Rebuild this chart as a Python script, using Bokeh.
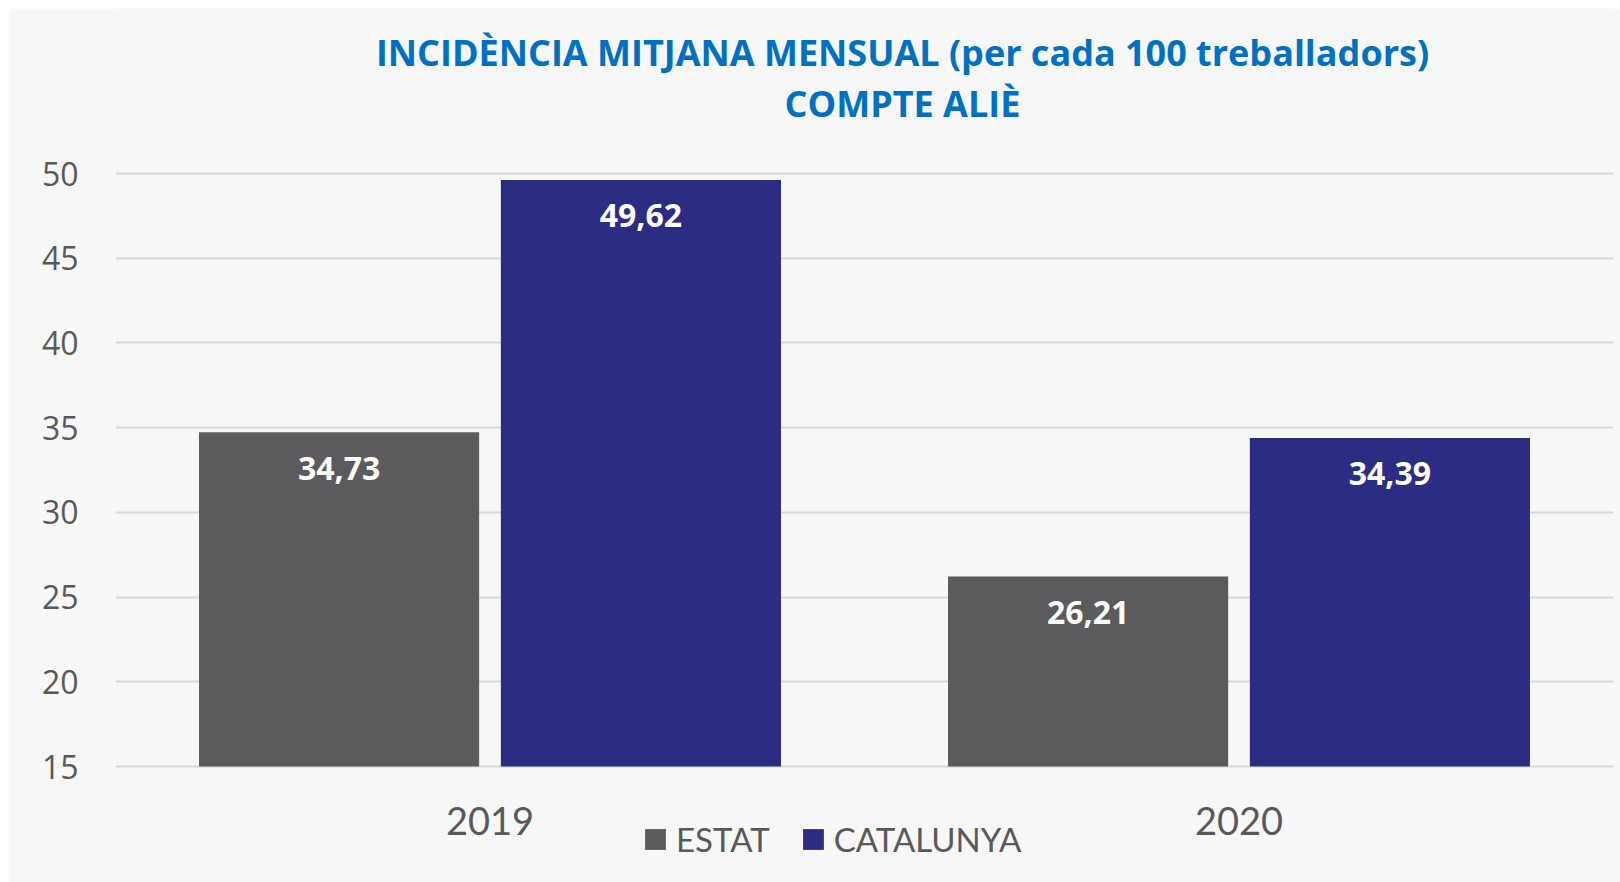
from bokeh.plotting import figure
from bokeh.models import (ColumnDataSource, FactorRange, Range1d, FixedTicker, LabelSet,
                          Label, Legend, LegendItem)
from bokeh.transform import dodge
from bokeh.core.properties import value
from bokeh.embed import file_html
from bokeh.resources import INLINE

years = ["2019", "2020"]
estat = [34.73, 26.21]
catalunya = [49.62, 34.39]
y_ticks = [15, 20, 25, 30, 35, 40, 45, 50]
title_line1 = "INCIDÈNCIA MITJANA MENSUAL (per cada 100 treballadors)"
title_line2 = "COMPTE ALIÈ"

def fmt(v):
    return f"{v:.2f}".replace(".", ",")

src = ColumnDataSource(dict(
    years=years, estat=estat, catalunya=catalunya,
    estat_lbl=[fmt(v) for v in estat], cat_lbl=[fmt(v) for v in catalunya],
))

# frame spans the full canvas height; the value axis 15..50 occupies page y 766..173
PX_PER_UNIT = 593 / 35.0
Y_LO = 15 - 116 / PX_PER_UNIT
Y_HI = 50 + 165 / PX_PER_UNIT

BG = "#f7f7f7"
p = figure(x_range=FactorRange(*years), y_range=Range1d(Y_LO, Y_HI),
           frame_width=1498, frame_height=874,
           min_border_left=107, min_border_right=7, min_border_top=0, min_border_bottom=0,
           output_backend="svg", toolbar_location=None,
           background_fill_color=BG, border_fill_color=BG)
p.margin = (8, 0, 0, 8)
p.outline_line_color = None

W = 0.374
OFF = 0.2015
r1 = p.vbar(x=dodge("years", -OFF, range=p.x_range), top="estat", bottom=15, width=W,
            source=src, fill_color="#5b5b5d", line_color=None)
r2 = p.vbar(x=dodge("years", OFF, range=p.x_range), top="catalunya", bottom=15, width=W,
            source=src, fill_color="#2d2c83", line_color=None)

for col, lbl, off in (("estat", "estat_lbl", -OFF), ("catalunya", "cat_lbl", OFF)):
    p.add_layout(LabelSet(x=dodge("years", off, range=p.x_range), y=col, text=lbl, source=src,
                          y_offset=-36, text_align="center", text_baseline="middle",
                          text_font=value("Open Sans"), text_font_style="bold",
                          text_font_size="32px", text_color="white"))

# axes
p.yaxis.ticker = FixedTicker(ticks=y_ticks)
for ax in (p.xaxis, p.yaxis):
    ax.axis_line_color = None
    ax.major_tick_line_color = None
    ax.minor_tick_line_color = None
    ax.major_tick_out = 0
    ax.major_tick_in = 0
    ax.major_label_text_color = "#595959"
p.yaxis.major_label_text_font = "Open Sans"
p.yaxis.major_label_text_font_size = "32px"
p.yaxis.major_label_standoff = 37
p.xaxis.fixed_location = 15
p.xaxis.major_label_text_font = "Lato"
p.xaxis.major_label_text_font_size = "38px"
p.xaxis.major_label_standoff = 40

p.xgrid.grid_line_color = None
p.ygrid.grid_line_color = "#d9d9d9"
p.ygrid.grid_line_width = 2

# title (screen units relative to the frame: x from its left, y from its bottom)
for txt, yy in ((title_line1, 830), (title_line2, 779)):
    p.add_layout(Label(x=787, y=yy, x_units="screen", y_units="screen", text=txt,
                       text_align="center", text_baseline="middle",
                       text_font="Open Sans", text_font_style="bold",
                       text_font_size="36px", text_color="#0070c0"))

legend = Legend(items=[LegendItem(label="ESTAT", renderers=[r1]),
                       LegendItem(label="CATALUNYA", renderers=[r2])],
                location=(527, 23), orientation="horizontal",
                glyph_width=26, glyph_height=26, label_standoff=8, spacing=30,
                padding=0, margin=0, border_line_color=None, background_fill_alpha=0,
                label_text_font="Lato", label_text_font_size="33px",
                label_text_color="#595959")
p.add_layout(legend, "center")

open("out.html", "w").write(file_html(p, INLINE))
